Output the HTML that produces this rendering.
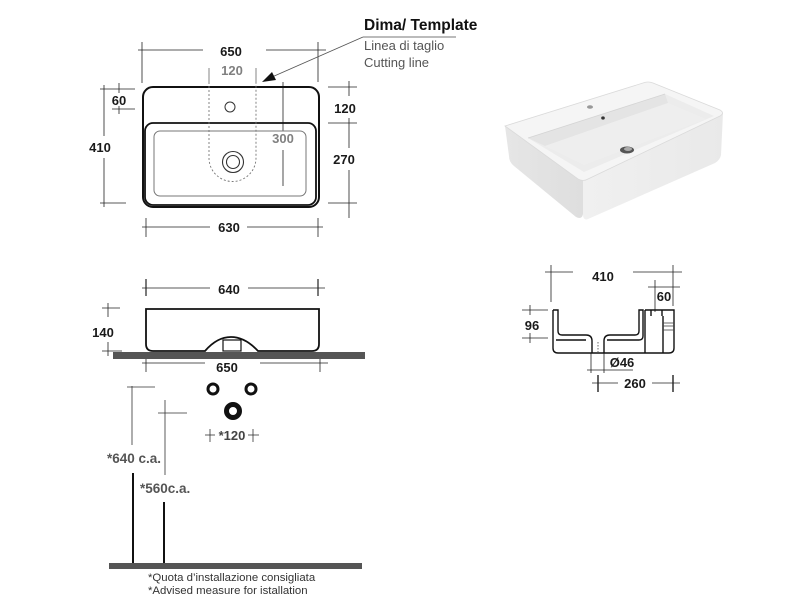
<!DOCTYPE html>
<html><head><meta charset="utf-8"><style>
html,body{margin:0;padding:0;background:#fff;}
svg{display:block;}
text{font-family:"Liberation Sans",Arial,sans-serif;}
.d{font-weight:bold;font-size:13px;fill:#1a1a1a;}
.g{font-weight:bold;font-size:13px;fill:#808080;}
</style></head><body>
<svg width="800" height="600" viewBox="0 0 800 600" xmlns="http://www.w3.org/2000/svg">
<rect width="800" height="600" fill="#fff"/>

<!-- ================= PLAN VIEW ================= -->
<g stroke="#222" fill="none" stroke-width="0.8">
  <line x1="142" y1="42" x2="142" y2="83"/>
  <line x1="318" y1="42" x2="318" y2="82"/>
  <line x1="138" y1="50" x2="203" y2="50"/>
  <line x1="266" y1="50" x2="326" y2="50"/>
  <line x1="100" y1="89" x2="135" y2="89"/>
  <line x1="112" y1="109" x2="135" y2="109"/>
  <line x1="119" y1="83" x2="119" y2="93"/>
  <line x1="119" y1="106" x2="119" y2="114"/>
  <line x1="104" y1="85" x2="104" y2="136"/>
  <line x1="104" y1="158" x2="104" y2="207"/>
  <line x1="100" y1="203" x2="126" y2="203"/>
  <line x1="328" y1="87" x2="357" y2="87"/>
  <line x1="349" y1="81" x2="349" y2="96"/>
  <line x1="349" y1="118" x2="349" y2="148"/>
  <line x1="328" y1="123" x2="357" y2="123"/>
  <line x1="349" y1="170" x2="349" y2="218"/>
  <line x1="328" y1="203" x2="357" y2="203"/>
  <line x1="142" y1="227" x2="210" y2="227"/>
  <line x1="247" y1="227" x2="323" y2="227"/>
  <line x1="146" y1="218" x2="146" y2="237"/>
  <line x1="318" y1="218" x2="318" y2="237"/>
  <line x1="283" y1="82" x2="283" y2="131"/>
  <line x1="283" y1="150" x2="283" y2="186"/>
  <line x1="209" y1="68" x2="209" y2="82" stroke="#666"/>
  <line x1="256" y1="68" x2="256" y2="82" stroke="#666"/>
</g>
<rect x="143" y="87" width="176" height="120" rx="10" fill="none" stroke="#111" stroke-width="2"/>
<rect x="145" y="123" width="171" height="82" rx="8" fill="none" stroke="#111" stroke-width="1.8"/>
<rect x="154" y="131" width="152" height="65" rx="6" fill="none" stroke="#777" stroke-width="1"/>
<circle cx="230" cy="107" r="5" fill="none" stroke="#333" stroke-width="1"/>
<circle cx="233" cy="162" r="10.5" fill="none" stroke="#333" stroke-width="1.1"/>
<circle cx="233" cy="162" r="6.5" fill="none" stroke="#333" stroke-width="1.1"/>
<path d="M209,82 L209,158 A23.5,23.5 0 0 0 256,158 L256,82" fill="none" stroke="#777" stroke-width="0.9" stroke-dasharray="2,2"/>

<text x="231" y="56" text-anchor="middle" class="d">650</text>
<text x="232" y="75" text-anchor="middle" class="g">120</text>
<text x="119" y="105" text-anchor="middle" class="d">60</text>
<text x="100" y="152" text-anchor="middle" class="d">410</text>
<text x="345" y="113" text-anchor="middle" class="d">120</text>
<text x="344" y="164" text-anchor="middle" class="d">270</text>
<text x="283" y="143" text-anchor="middle" class="g">300</text>
<text x="229" y="232" text-anchor="middle" class="d">630</text>

<text x="364" y="30" font-size="15.5" font-weight="bold" fill="#111">Dima/ Template</text>
<line x1="363" y1="37" x2="456" y2="37" stroke="#777" stroke-width="0.9"/>
<line x1="363" y1="37" x2="272" y2="77" stroke="#555" stroke-width="0.9"/>
<polygon points="262,82 272,72 276,80" fill="#111"/>
<text x="364" y="50" font-size="13" fill="#555">Linea di taglio</text>
<text x="364" y="67" font-size="13" fill="#555">Cutting line</text>

<!-- ================= 3D PHOTO ================= -->
<defs>
  <linearGradient id="left" x1="0" y1="0" x2="1" y2="0">
    <stop offset="0" stop-color="#e6e6e6"/><stop offset="1" stop-color="#dedede"/>
  </linearGradient>
  <linearGradient id="frontf" x1="0" y1="0" x2="1" y2="0">
    <stop offset="0" stop-color="#f0f0f0"/><stop offset="1" stop-color="#e9e9e9"/>
  </linearGradient>
</defs>
<path d="M505,126 L583,180 L583,214 Q582,220 576,217 L514,166 Q509,162 509,156 Z" fill="url(#left)"/>
<path d="M583,180 L723,113 L721,155 Q720,160 715,163 L588,219 Q583,221 583,214 Z" fill="url(#frontf)"/>
<path d="M505,126 L643,83 Q648,81 653,83 L720,110 Q725,113 720,116 L588,179 Q583,182 578,179 Z" fill="#f5f5f5" stroke="#dadada" stroke-width="0.8"/>
<!-- inner -->
<polygon points="528,138 665,94 714,116 584,172" fill="#ececec"/>
<polygon points="528,138 665,94 668,103 545,146" fill="#e4e4e4"/>
<polygon points="545,146 668,103 706,119 584,165" fill="#eeeeee"/>
<line x1="528" y1="138" x2="665" y2="94" stroke="#d4d4d4" stroke-width="0.8"/>
<ellipse cx="590" cy="107" rx="3" ry="1.8" fill="#999"/>
<ellipse cx="603" cy="118" rx="1.8" ry="1.6" fill="#333"/>
<ellipse cx="627" cy="150" rx="7" ry="3.5" fill="#555"/>
<ellipse cx="628" cy="149" rx="4" ry="2" fill="#aaa"/>

<!-- ================= SIDE VIEW ================= -->
<g stroke="#222" fill="none" stroke-width="0.8">
  <line x1="142" y1="288" x2="210" y2="288"/>
  <line x1="248" y1="288" x2="325" y2="288"/>
  <line x1="146" y1="279" x2="146" y2="296" stroke-width="1.2"/>
  <line x1="318" y1="279" x2="318" y2="296" stroke-width="1.2"/>
  <line x1="102" y1="308" x2="120" y2="308"/>
  <line x1="108" y1="303" x2="108" y2="317"/>
  <line x1="102" y1="351" x2="122" y2="351"/>
  <line x1="108" y1="342" x2="108" y2="356"/>
  <line x1="142" y1="363" x2="205" y2="363"/>
  <line x1="260" y1="363" x2="328" y2="363"/>
  <line x1="146" y1="357" x2="146" y2="372"/>
  <line x1="320" y1="357" x2="320" y2="372"/>
</g>
<path d="M146,309 L319,309 L319,344 Q319,351 312,351 L258,351 Q245,337 231,337 Q217,337 205,351 L153,351 Q146,351 146,344 Z" fill="none" stroke="#111" stroke-width="1.8"/>
<rect x="223" y="340" width="18" height="11" fill="none" stroke="#111" stroke-width="1.2"/>
<rect x="113" y="352" width="252" height="7" fill="#555"/>
<text x="229" y="294" text-anchor="middle" class="d">640</text>
<text x="103" y="337" text-anchor="middle" class="d">140</text>
<text x="227" y="372" text-anchor="middle" class="d">650</text>

<circle cx="213" cy="389" r="5" fill="none" stroke="#111" stroke-width="3"/>
<circle cx="251" cy="389" r="5" fill="none" stroke="#111" stroke-width="3"/>
<circle cx="233" cy="411" r="6.5" fill="none" stroke="#111" stroke-width="5"/>
<g stroke="#333" stroke-width="0.8" fill="none">
  <line x1="205" y1="435" x2="215" y2="435"/>
  <line x1="210" y1="429" x2="210" y2="442"/>
  <line x1="248" y1="435" x2="259" y2="435"/>
  <line x1="253" y1="429" x2="253" y2="442"/>
  <line x1="132" y1="386" x2="132" y2="445"/>
  <line x1="127" y1="387" x2="155" y2="387"/>
  <line x1="165" y1="400" x2="165" y2="475"/>
  <line x1="158" y1="413" x2="187" y2="413"/>
</g>
<text x="232" y="440" text-anchor="middle" font-size="13" font-weight="bold" fill="#444">*120</text>
<text x="107" y="463" font-size="13.5" font-weight="bold" fill="#555">*640 c.a.</text>
<text x="140" y="493" font-size="13.5" font-weight="bold" fill="#555">*560c.a.</text>
<line x1="133" y1="473" x2="133" y2="564" stroke="#111" stroke-width="2"/>
<line x1="164" y1="502" x2="164" y2="564" stroke="#111" stroke-width="2"/>
<rect x="109" y="563" width="253" height="6" fill="#555"/>
<text x="148" y="581" font-size="11.4" fill="#333">*Quota d’installazione consigliata</text>
<text x="148" y="594" font-size="11.4" fill="#333">*Advised measure for istallation</text>

<!-- ================= SECTION VIEW ================= -->
<g stroke="#222" fill="none" stroke-width="0.8">
  <line x1="551" y1="265" x2="551" y2="302"/>
  <line x1="545" y1="272" x2="573" y2="272"/>
  <line x1="633" y1="272" x2="682" y2="272"/>
  <line x1="673" y1="265" x2="673" y2="306"/>
  <line x1="655" y1="280" x2="655" y2="312"/>
  <line x1="648" y1="287" x2="680" y2="287"/>
  <line x1="522" y1="310" x2="548" y2="310"/>
  <line x1="522" y1="338" x2="548" y2="338"/>
  <line x1="530" y1="305" x2="530" y2="315"/>
  <line x1="530" y1="333" x2="530" y2="343"/>
  <line x1="591" y1="353" x2="591" y2="373"/>
  <line x1="604" y1="345" x2="604" y2="373"/>
  <line x1="587" y1="370" x2="633" y2="370"/>
  <line x1="592" y1="383" x2="618" y2="383"/>
  <line x1="652" y1="383" x2="680" y2="383"/>
  <line x1="598" y1="375" x2="598" y2="392" stroke-width="1.4"/>
  <line x1="673" y1="375" x2="673" y2="392" stroke-width="1.4"/>
</g>
<g stroke="#111" fill="none" stroke-width="1.4">
  <path d="M553,310 L553,348 Q553,353 558,353 L669,353 Q674,353 674,348 L674,310 L645,310"/>
  <path d="M553,310 L558,310 L558,331 Q558,335 562,335 L586,335 Q592,335 592,341 L592,353"/>
  <path d="M556,340 L586,340"/>
  <path d="M604,353 L604,341 Q604,335 610,335 L635,335 Q639,335 639,331 L639,310 L643,310 L643,336 Q643,340 639,340 L607,340"/>
  <path d="M645,310 L645,353"/>
  <path d="M651,310 L651,316 M662,310 L662,316"/>
  <path d="M663,316 L663,353"/>
</g>
<g stroke="#444" stroke-width="0.8" fill="none">
  <line x1="663" y1="323" x2="674" y2="323"/>
  <line x1="663" y1="326" x2="674" y2="326"/>
  <line x1="663" y1="330" x2="674" y2="330"/>
  <line x1="598" y1="342" x2="598" y2="352" stroke-dasharray="1.5,1.5"/>
</g>
<text x="603" y="281" text-anchor="middle" class="d">410</text>
<text x="664" y="301" text-anchor="middle" class="d">60</text>
<text x="532" y="330" text-anchor="middle" class="d">96</text>
<text x="622" y="367" text-anchor="middle" class="d">Ø46</text>
<text x="635" y="388" text-anchor="middle" class="d">260</text>
</svg>
</body></html>
